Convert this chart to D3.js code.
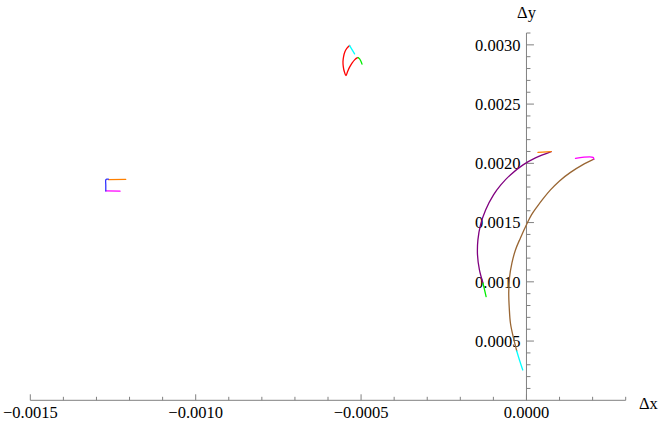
<!DOCTYPE html>
<html><head><meta charset="utf-8">
<script src="https://cdn.jsdelivr.net/npm/d3@7"></script>
<style>html,body{margin:0;padding:0;background:#fff;} svg{display:block;font-family:"Liberation Serif","Times New Roman",serif;}</style>
</head><body><svg id="c" width="664" height="425"></svg>
<script>
// Axis settings
const xDomain = [-0.0015, 0.0003];
const yDomain = [0, 0.0031];
const xMajorTicks = [-0.0015, -0.0010, -0.0005, 0.0000];
const xTickLabels = ["\u22120.0015", "\u22120.0010", "\u22120.0005", "0.0000"];
const yMajorTicks = [0.0005, 0.0010, 0.0015, 0.0020, 0.0025, 0.0030];
const yTickLabels = ["0.0005", "0.0010", "0.0015", "0.0020", "0.0025", "0.0030"];
const xLabel = "\u0394x";
const yLabel = "\u0394y";

// Top-centre group
const topCyan = [[-0.0005347,0.0029941],[-0.0005196,0.0029240]];
const topRed = [[-0.0005347,0.0029941],[-0.0005426,0.0029722],[-0.0005486,0.0029434],[-0.0005529,0.0029012],[-0.0005547,0.0028590],[-0.0005538,0.0028168],[-0.0005507,0.0027746],[-0.0005456,0.0027408],[-0.0005408,0.0027746],[-0.0005347,0.0028117],[-0.0005274,0.0028455],[-0.0005196,0.0028734],[-0.0005123,0.0028903],[-0.0005093,0.0028928]];
const topGreen = [[-0.0005093,0.0028928],[-0.0005044,0.0028818],[-0.0005002,0.0028590],[-0.0004972,0.0028370]];

// Left group
const leftBlue = [[-0.0012718,0.0017673],[-0.0012718,0.0018179],[-0.0012718,0.0018601],[-0.0012689,0.0018660],[-0.0012640,0.0018660]];
const leftOrange = [[-0.0012640,0.0018627],[-0.0012114,0.0018654]];
const leftMagenta = [[-0.0012718,0.0017673],[-0.0012287,0.0017647]];

// Right group
const rightOrange = [[0.0000348,0.0020923],[0.0000747,0.0020991]];
const rightPurple = [[0.0000747,0.0020991],[0.0000272,0.0020459],[-0.0000103,0.0019868],[-0.0000487,0.0019023],[-0.0000775,0.0018179],[-0.0000996,0.0017335],[-0.0001235,0.0016068],[-0.0001389,0.0014802],[-0.0001468,0.0013535],[-0.0001480,0.0012269],[-0.0001422,0.0011002],[-0.0001313,0.0009879]];
const rightGreen = [[-0.0001313,0.0009879],[-0.0001220,0.0008748]];
const rightMagenta = [[0.0001483,0.0020417],[0.0002012,0.0020501],[0.0002037,0.0020349]];
const rightBrown = [[0.0002037,0.0020349],[0.0001695,0.0019868],[0.0001331,0.0019235],[0.0000999,0.0018517],[0.0000726,0.0017757],[0.0000499,0.0016997],[0.0000324,0.0016347],[0.0000151,0.0015646],[0.0000021,0.0014945],[-0.0000182,0.0013704],[-0.0000333,0.0012691],[-0.0000439,0.0011593],[-0.0000514,0.0010327],[-0.0000536,0.0009060],[-0.0000520,0.0007793],[-0.0000484,0.0006502],[-0.0000393,0.0005260],[-0.0000294,0.0004163]];
const rightCyan = [[-0.0000294,0.0004163],[-0.0000212,0.0003403],[-0.0000112,0.0002558]];

const curves = [
  {pts: topRed, color: "#ff0000"},
  {pts: topCyan, color: "#00ffff"},
  {pts: topGreen, color: "#00ee00"},
  {pts: leftOrange, color: "#ff8000"},
  {pts: leftMagenta, color: "#ff00ff"},
  {pts: leftBlue, color: "#3333ff"},
  {pts: rightPurple, color: "#800080"},
  {pts: rightOrange, color: "#ff8000"},
  {pts: rightGreen, color: "#00ee00"},
  {pts: rightBrown, color: "#996633"},
  {pts: rightMagenta, color: "#ff00ff"},
  {pts: rightCyan, color: "#00ffff"}
];

const svg = d3.select("#c");
const x = d3.scaleLinear().domain(xDomain).range([30.3, 625.7]);
const y = d3.scaleLinear().domain(yDomain).range([400.3, 33]);
const axisColor = "#808080";

// minor tick positions
const xMinor = d3.range(-15, 4).map(i => i * 0.0001);
const yMinor = d3.range(1, 32).map(i => i * 0.0001);
const isMajor = (v, arr) => arr.some(m => Math.abs(m - v) < 1e-9);

// X axis
const gx = svg.append("g").attr("transform", `translate(0,${y(0)})`);
gx.append("line").attr("x1", x(xDomain[0])).attr("x2", x(xDomain[1])).attr("stroke", axisColor).attr("stroke-width", 1);
gx.selectAll("line.t").data(xMinor).enter().append("line").attr("class","t")
  .attr("x1", d => x(d)).attr("x2", d => x(d)).attr("y1", 0)
  .attr("y2", d => isMajor(d, xMajorTicks) ? -6 : -3.5)
  .attr("stroke", axisColor).attr("stroke-width", 1);
gx.selectAll("text").data(xMajorTicks).enter().append("text")
  .attr("x", d => x(d)).attr("y", 18).attr("text-anchor", "middle")
  .attr("font-size", 16.5).attr("fill", "#000").text((d,i) => xTickLabels[i]);

// Y axis
const gy = svg.append("g").attr("transform", `translate(${x(0)},0)`);
gy.append("line").attr("y1", y(yDomain[0])).attr("y2", y(yDomain[1])).attr("stroke", axisColor).attr("stroke-width", 1);
gy.selectAll("line.t").data(yMinor).enter().append("line").attr("class","t")
  .attr("y1", d => y(d)).attr("y2", d => y(d)).attr("x1", 0)
  .attr("x2", d => isMajor(d, yMajorTicks) ? 7.5 : 4)
  .attr("stroke", axisColor).attr("stroke-width", 1);
gy.selectAll("text").data(yMajorTicks).enter().append("text")
  .attr("x", -6).attr("y", d => y(d)).attr("dy", "0.35em").attr("text-anchor", "end")
  .attr("font-size", 16.5).attr("fill", "#000").text((d,i) => yTickLabels[i]);

// Axis labels
svg.append("text").attr("x", x(0)).attr("y", 18).attr("text-anchor", "middle")
  .attr("font-size", 16.5).text(yLabel);
svg.append("text").attr("x", 639).attr("y", 409).attr("text-anchor", "start")
  .attr("font-size", 16.5).text(xLabel);

// Curves
const line = d3.line().x(d => x(d[0])).y(d => y(d[1])).curve(d3.curveCatmullRom.alpha(0.5));
svg.append("g").selectAll("path").data(curves).enter().append("path")
  .attr("d", d => line(d.pts)).attr("fill", "none")
  .attr("stroke", d => d.color).attr("stroke-width", 1.3)
  .attr("stroke-linejoin", "round").attr("stroke-linecap", "round");
</script></body></html>
